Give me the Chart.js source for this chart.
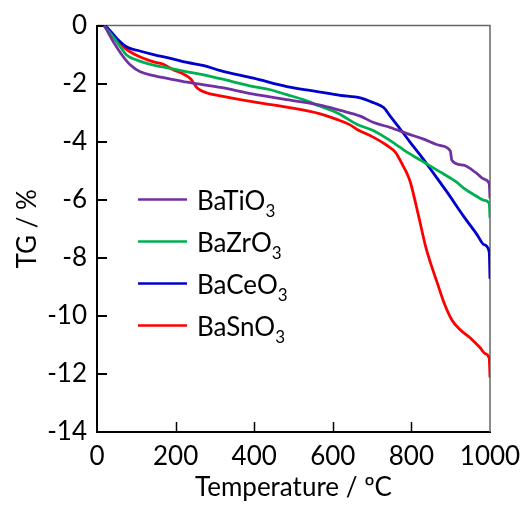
<!DOCTYPE html>
<html><head><meta charset="utf-8">
<script src="https://cdn.jsdelivr.net/npm/chart.js@4/dist/chart.umd.min.js"></script>
<style>html,body{margin:0;padding:0;background:#fff}canvas{display:block}</style>
</head><body>
<canvas id="c" width="524" height="505"></canvas>
<script>
// ---- data ----
const xTicks = [0, 200, 400, 600, 800, 1000];
const yTicks = [0, -2, -4, -6, -8, -10, -12, -14];
const seriesLabels = ['BaTiO3', 'BaZrO3', 'BaCeO3', 'BaSnO3'];
const seriesColors = ['#7030A0', '#00B050', '#0000CC', '#FF0000'];

const tempTi = [18, 21, 42, 64, 85, 110, 144, 187, 229, 272, 314, 398, 483, 568, 619, 670, 704, 746, 789, 831, 873, 899, 903, 933, 967, 985, 998, 1000];
const tgTi   = [0, -0.06, -0.57, -1.02, -1.36, -1.59, -1.72, -1.84, -1.95, -2.04, -2.13, -2.36, -2.55, -2.74, -2.92, -3.12, -3.34, -3.51, -3.72, -3.91, -4.13, -4.32, -4.64, -4.81, -5.10, -5.29, -5.44, -5.95];

const tempZr = [18, 30, 51, 76, 102, 144, 187, 229, 272, 314, 398, 441, 483, 525, 568, 610, 619, 661, 704, 746, 789, 831, 873, 899, 916, 933, 967, 985, 998, 1000];
const tgZr   = [0, -0.2, -0.57, -1.02, -1.19, -1.36, -1.47, -1.59, -1.70, -1.83, -2.10, -2.21, -2.38, -2.55, -2.78, -3.0, -3.06, -3.40, -3.62, -3.96, -4.36, -4.70, -5.04, -5.25, -5.40, -5.60, -5.89, -6.02, -6.12, -6.63];

const tempCe = [18, 25, 51, 76, 102, 144, 187, 229, 272, 314, 398, 483, 568, 619, 670, 704, 730, 746, 772, 797, 823, 848, 873, 890, 933, 967, 985, 998, 1000];
const tgCe   = [0, -0.06, -0.45, -0.74, -0.85, -1.0, -1.13, -1.27, -1.38, -1.55, -1.81, -2.10, -2.29, -2.40, -2.49, -2.66, -2.83, -3.12, -3.57, -4.02, -4.47, -4.93, -5.40, -5.72, -6.57, -7.20, -7.55, -7.80, -8.72];

const tempSn = [18, 30, 51, 68, 85, 110, 144, 170, 195, 216, 238, 255, 280, 314, 398, 483, 568, 610, 644, 661, 704, 738, 759, 776, 789, 797, 819, 836, 848, 865, 882, 903, 924, 950, 975, 988, 998, 1000];
const tgSn   = [0, -0.18, -0.51, -0.74, -0.91, -1.08, -1.25, -1.34, -1.53, -1.64, -1.83, -2.15, -2.32, -2.42, -2.63, -2.81, -3.04, -3.23, -3.42, -3.57, -3.85, -4.13, -4.36, -4.76, -5.10, -5.38, -6.6, -7.6, -8.15, -8.83, -9.51, -10.14, -10.48, -10.76, -11.10, -11.30, -11.46, -12.12];

const temps = [tempTi, tempZr, tempCe, tempSn];
const tgs = [tgTi, tgZr, tgCe, tgSn];

const FONT = {family: 'Lato', size: 26};

const frame = {
  id: 'frame',
  beforeDatasetsDraw(chart) {
    const {ctx, chartArea: a, scales: {x, y}} = chart;
    ctx.save();
    ctx.strokeStyle = '#666';
    ctx.lineWidth = 1.5;
    ctx.beginPath();
    ctx.moveTo(a.left, a.top);
    ctx.lineTo(a.right, a.top);
    ctx.lineTo(a.right, a.bottom);
    ctx.stroke();
    ctx.strokeStyle = '#000';
    ctx.lineWidth = 2;
    yTicks.forEach(v => {
      const p = Math.round(y.getPixelForValue(v));
      ctx.beginPath(); ctx.moveTo(a.left, p); ctx.lineTo(a.left + 10, p); ctx.stroke();
    });
    ctx.lineWidth = 1.5;
    xTicks.forEach(v => {
      if (v === xTicks[0] || v === xTicks[xTicks.length - 1]) return;
      const p = Math.round(x.getPixelForValue(v)) + 0.5;
      ctx.beginPath(); ctx.moveTo(p, a.bottom); ctx.lineTo(p, a.bottom - 10); ctx.stroke();
    });
    ctx.restore();
  },
  afterDraw(chart) {
    const {ctx, chartArea: a} = chart;
    ctx.save();
    chart.data.datasets.forEach((ds, i) => {
      const yy = a.top + 174 + i * 42;
      ctx.strokeStyle = ds.borderColor;
      ctx.lineWidth = 2.5;
      ctx.beginPath(); ctx.moveTo(a.left + 41, yy); ctx.lineTo(a.left + 90, yy); ctx.stroke();
      const m = ds.label.match(/^(.*?)(\d+)$/);
      ctx.fillStyle = '#000';
      ctx.textBaseline = 'alphabetic';
      ctx.textAlign = 'left';
      ctx.font = '26px Lato';
      const tx = a.left + 100;
      ctx.fillText(m[1], tx, yy + 10);
      const w = ctx.measureText(m[1]).width;
      ctx.font = '17px Lato';
      ctx.fillText(m[2], tx + w, yy + 17);
    });
    ctx.restore();
  }
};

new Chart(document.getElementById('c'), {
  type: 'line',
  data: {
    datasets: seriesLabels.map((lab, i) => ({
      label: lab,
      data: temps[i].map((t, k) => ({x: t, y: tgs[i][k]})),
      borderColor: seriesColors[i],
      backgroundColor: seriesColors[i],
      borderWidth: 2.8,
      pointRadius: 0,
      fill: false,
      cubicInterpolationMode: 'monotone'
    }))
  },
  options: {
    responsive: false,
    animation: false,
    events: [],
    layout: {padding: {top: 20, right: 34, left: 0, bottom: 0}},
    plugins: {legend: {display: false}, tooltip: {enabled: false}},
    scales: {
      x: {
        type: 'linear', min: 0, max: 1000,
        afterBuildTicks: s => { s.ticks = xTicks.map(v => ({value: v})); },
        afterFit: s => { s.height = 73; s.paddingRight = 0; s.paddingLeft = 0; },
        ticks: {font: FONT, color: '#000', padding: 9, maxRotation: 0, autoSkip: false, callback: v => String(v)},
        grid: {drawOnChartArea: false, drawTicks: false},
        border: {display: true, color: '#000', width: 2},
        title: {display: true, text: 'Temperature / ºC', font: FONT, color: '#000', padding: {top: 0, bottom: 2}}
      },
      y: {
        type: 'linear', min: -14, max: 0,
        afterBuildTicks: s => { s.ticks = yTicks.map(v => ({value: v})); },
        afterFit: s => { s.width = 97; },
        ticks: {font: FONT, color: '#000', padding: 10, autoSkip: false, callback: v => String(v)},
        grid: {drawOnChartArea: false, drawTicks: false},
        border: {display: true, color: '#000', width: 2},
        title: {display: true, text: 'TG / %', font: FONT, color: '#000', padding: {top: 12, bottom: 0}}
      }
    }
  },
  plugins: [frame]
});
</script>
</body></html>
